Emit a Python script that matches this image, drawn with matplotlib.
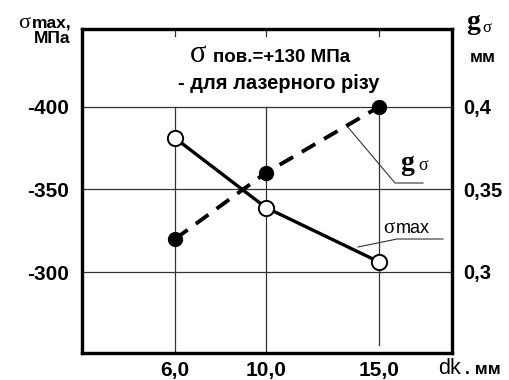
import matplotlib
matplotlib.use("Agg")
import matplotlib.pyplot as plt

# Data
dk = [6.0, 10.0, 15.0]
xtick_labels = ["6,0", "10,0", "15,0"]
sigma_max = [-381, -339, -306]
g_sigma = [0.32, 0.36, 0.40]
left_ticks = [-400, -350, -300]
left_tick_labels = ["-400", "-350", "-300"]
right_ticks = [0.40, 0.35, 0.30]
right_tick_labels = ["0,4", "0,35", "0,3"]

plt.rcParams['font.family'] = ['Liberation Sans', 'DejaVu Sans']

fig = plt.figure(figsize=(5.1, 3.8), dpi=100)
ax = fig.add_axes([82/510, 1-353/380, 370/510, 324/380])
ax.set_xlim(1.9, 18.2)
ax.set_ylim(-251, -447)

ax2 = ax.twinx()
ax2.set_ylim(0.251, 0.447)

for a in (ax, ax2):
    for s in a.spines.values():
        s.set_linewidth(2.3)
        s.set_color('black')

# grid
for yv in left_ticks:
    ax.axhline(yv, color='#333333', lw=0.9, zorder=1)
for i, xv in enumerate(dk):
    ybot = -251 if i < 2 else -256
    ax.plot([xv, xv], [ybot, -400], color='#333333', lw=0.9, zorder=1)
    ax.plot([xv, xv], [-447, -443], color='#333333', lw=0.9, zorder=1)

ax.set_xticks(dk)
ax.set_xticklabels(xtick_labels, fontsize=15, fontweight='bold')
ax.set_yticks(left_ticks)
ax.set_yticklabels(left_tick_labels, fontsize=15, fontweight='bold')
ax.tick_params(axis='both', length=0, pad=6)
ax.tick_params(axis='y', pad=9)
ax2.set_yticks(right_ticks)
ax2.set_yticklabels(right_tick_labels, fontsize=14.5, fontweight='bold')
ax2.tick_params(axis='y', length=0, pad=8)

# series
ax.plot(dk, sigma_max, color='black', lw=2.4, zorder=3,
        marker='o', ms=11, mfc='white', mec='black', mew=1.4)
ax2.plot(dk, g_sigma, color='black', lw=2.8, ls=(0, (4, 2.6)), zorder=3,
         marker='o', ms=10, mfc='black', mec='black')

# leader lines (axes fraction coords)
def fx(px):
    return (px - 82) / 370
def fy(py):
    return (353 - py) / 324

ax.plot([fx(347), fx(395), fx(423)], [fy(126), fy(183), fy(183)],
        color='#333333', lw=0.8, transform=ax.transAxes, zorder=2)
ax.plot([fx(358), fx(397), fx(443)], [fy(247), fy(239), fy(239)],
        color='#333333', lw=0.8, transform=ax.transAxes, zorder=2)

# texts
fig.text(400/510, 1-170/380, "g", fontsize=20, fontweight='bold',
         family='Liberation Serif', va='baseline')
fig.text(418/510, 1-170/380, "σ", fontsize=13, family='Liberation Serif',
         va='baseline')
fig.text(383/510, 1-233/380, "σ", fontsize=15, family='Liberation Serif',
         va='baseline')
fig.text(396/510, 1-233/380, "max", fontsize=13, va='baseline')

fig.text(190/510, 1-62/380, "σ", fontsize=22, family='Liberation Serif',
         va='baseline')
fig.text(213/510, 1-62/380, "пов.=+130 МПа", fontsize=13.5, fontweight='bold',
         va='baseline')
fig.text(178/510, 1-89/380, "- для лазерного різу", fontsize=14.5,
         fontweight='bold', va='baseline')

fig.text(30/510, 1-28/380, "σ", fontsize=16, family='Liberation Serif',
         ha='right', va='baseline')
fig.text(72/510, 1-28/380, "max,", fontsize=12.5, fontweight='bold',
         ha='right', va='baseline')
fig.text(70/510, 1-43/380, "МПа", fontsize=12.5, fontweight='bold',
         ha='right', va='baseline')

fig.text(466/510, 1-29/380, "g", fontsize=20, fontweight='bold',
         family='Liberation Serif', va='baseline')
fig.text(482/510, 1-32/380, "σ", fontsize=12, family='Liberation Serif',
         va='baseline')
fig.text(470/510, 1-62/380, "мм", fontsize=12.5, fontweight='bold',
         va='baseline')

fig.text(438/510, 1-374/380, "dk", fontsize=15.5, va='baseline')
fig.text(465/510, 1-374/380, ". мм", fontsize=12.5, fontweight='bold',
         va='baseline')

fig.savefig("out.png", dpi=100, facecolor='white')
